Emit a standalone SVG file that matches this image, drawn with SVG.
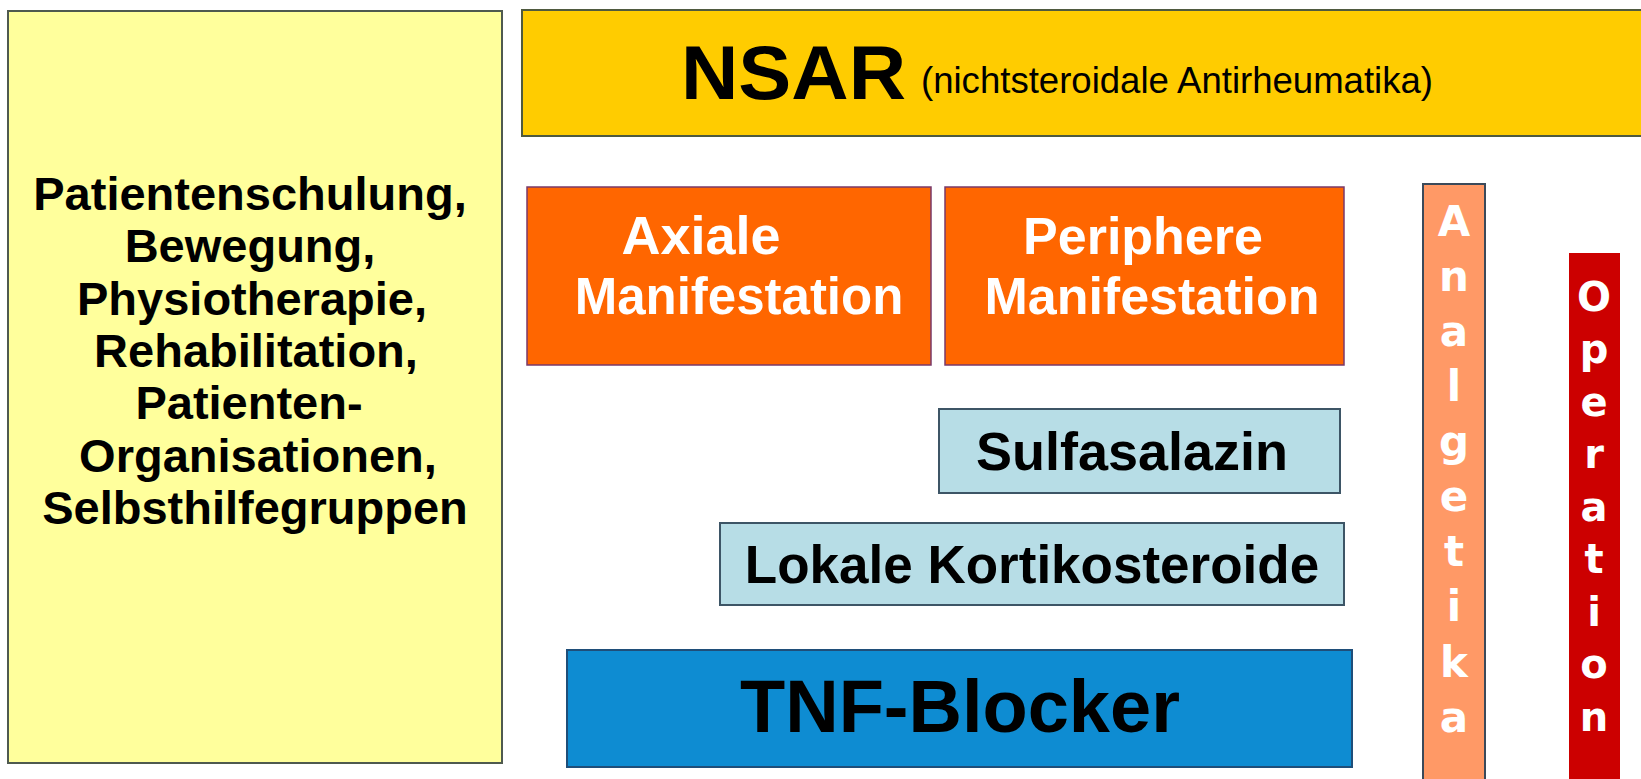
<svg xmlns="http://www.w3.org/2000/svg" width="1641" height="779" viewBox="0 0 1641 779">
<style>
.b{font-family:"Liberation Sans",Arial,sans-serif;font-weight:bold}
.n{font-family:"Liberation Sans",Arial,sans-serif}
.v{font-family:"DejaVu Sans",Verdana,sans-serif;font-weight:bold;fill:#fff;text-anchor:middle}
.blk{fill:#000;text-anchor:middle}
.wht{fill:#fff;text-anchor:middle}
</style>
<rect width="1641" height="779" fill="#fff"/>
<g id="basis">
<rect x="8" y="11" width="494" height="752" fill="#FFFF9C" stroke="#4f5a4f" stroke-width="2"/>
<g class="b blk" font-size="47">
<text x="250" y="210">Patientenschulung,</text>
<text x="250" y="262">Bewegung,</text>
<text x="252" y="315">Physiotherapie,</text>
<text x="256" y="367">Rehabilitation,</text>
<text x="249" y="419">Patienten-</text>
<text x="258" y="472">Organisationen,</text>
<text x="255" y="524">Selbsthilfegruppen</text>
</g>
</g>
<g id="nsar">
<rect x="522" y="10" width="1140" height="126" fill="#FFCC00" stroke="#4f5a3f" stroke-width="2"/>
<text class="b" x="681" y="99" font-size="76" textLength="225" lengthAdjust="spacingAndGlyphs">NSAR</text>
<text class="n" x="921" y="93" font-size="37" textLength="512" lengthAdjust="spacingAndGlyphs">(nichtsteroidale Antirheumatika)</text>
</g>
<g id="axiale">
<rect x="527" y="187" width="404" height="178" fill="#FF6600" stroke="#7a3a6a" stroke-width="1.5"/>
<g class="b wht">
<text x="701" y="254" font-size="54">Axiale</text>
<text x="739" y="314" font-size="51">Manifestation</text>
</g>
</g>
<g id="periphere">
<rect x="945" y="187" width="399" height="178" fill="#FF6600" stroke="#7a3a6a" stroke-width="1.5"/>
<g class="b wht" font-size="52">
<text x="1143" y="254">Periphere</text>
<text x="1152" y="314">Manifestation</text>
</g>
</g>
<g id="sulfasalazin">
<rect x="939" y="409" width="401" height="84" fill="#B7DDE6" stroke="#3d5566" stroke-width="2"/>
<text class="b blk" x="1132" y="470" font-size="54">Sulfasalazin</text>
</g>
<g id="kortikosteroide">
<rect x="720" y="523" width="624" height="82" fill="#B7DDE6" stroke="#3d5566" stroke-width="2"/>
<text class="b blk" x="1032" y="583" font-size="53">Lokale Kortikosteroide</text>
</g>
<g id="tnf">
<rect x="567" y="650" width="785" height="117" fill="#0E8CD2" stroke="#1f4e79" stroke-width="2"/>
<text class="b blk" x="960" y="732" font-size="74">TNF-Blocker</text>
</g>
<g id="analgetika">
<rect x="1423" y="184" width="62" height="610" fill="#FF9966" stroke="#3b4a5a" stroke-width="2"/>
<g class="v" font-size="42">
<text x="1454" y="236">A</text>
<text x="1454" y="291">n</text>
<text x="1454" y="346">a</text>
<text x="1454" y="401">l</text>
<text x="1454" y="456">g</text>
<text x="1454" y="511">e</text>
<text x="1454" y="566">t</text>
<text x="1454" y="621">i</text>
<text x="1454" y="677">k</text>
<text x="1454" y="732">a</text>
</g>
</g>
<g id="operation">
<rect x="1569" y="253" width="51" height="540" fill="#CC0000"/>
<g class="v" font-size="40">
<text x="1594" y="311">O</text>
<text x="1594" y="363">p</text>
<text x="1594" y="416">e</text>
<text x="1594" y="468">r</text>
<text x="1594" y="521">a</text>
<text x="1594" y="573">t</text>
<text x="1594" y="626">i</text>
<text x="1594" y="678">o</text>
<text x="1594" y="731">n</text>
</g>
</g>
<g id="connectors"></g>
</svg>
